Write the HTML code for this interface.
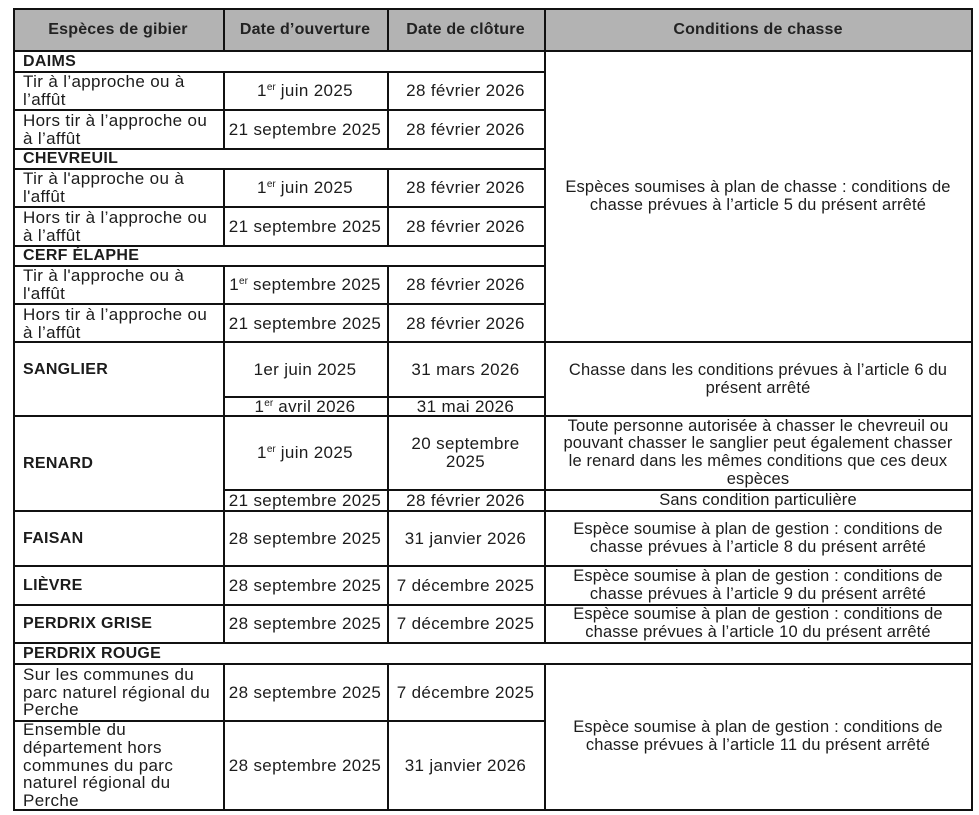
<!DOCTYPE html>
<html><head><meta charset="utf-8">
<style>
html,body{margin:0;padding:0;background:#fff;}
body{width:979px;height:815px;position:relative;overflow:hidden;font-family:"Liberation Sans",Arial,sans-serif;color:#1c1c1c;}
.h{position:absolute;height:1.5px;background:#111;}
.v{position:absolute;width:1.5px;background:#111;}
.c{position:absolute;display:flex;align-items:center;justify-content:center;text-align:center;white-space:nowrap;font-size:17px;line-height:17.7px;letter-spacing:0.35px;padding-top:2px;box-sizing:border-box;}
.l{justify-content:flex-start;text-align:left;padding-left:10px;}
.b{font-weight:bold;font-size:16px;letter-spacing:0.3px;}
.hd{font-weight:bold;font-size:16px;color:#222;letter-spacing:0.2px;}
.cd{font-size:16.5px;letter-spacing:0.15px;}
sup{font-size:10px;line-height:0;vertical-align:6px;letter-spacing:0;}
</style></head><body>
<div style="position:absolute;left:13px;top:8px;width:959px;height:42px;background:#b3b3b3;"></div>

<!-- horizontal lines -->
<div class="h" style="top:8px;left:13px;width:960px"></div>
<div class="h" style="top:50px;left:13px;width:960px"></div>
<div class="h" style="top:71px;left:13px;width:532px"></div>
<div class="h" style="top:109px;left:13px;width:532px"></div>
<div class="h" style="top:148px;left:13px;width:532px"></div>
<div class="h" style="top:168px;left:13px;width:532px"></div>
<div class="h" style="top:206px;left:13px;width:532px"></div>
<div class="h" style="top:245px;left:13px;width:532px"></div>
<div class="h" style="top:265px;left:13px;width:532px"></div>
<div class="h" style="top:303px;left:13px;width:532px"></div>
<div class="h" style="top:341px;left:13px;width:960px"></div>
<div class="h" style="top:396px;left:223px;width:322px"></div>
<div class="h" style="top:415px;left:13px;width:960px"></div>
<div class="h" style="top:489px;left:223px;width:750px"></div>
<div class="h" style="top:510px;left:13px;width:960px"></div>
<div class="h" style="top:565px;left:13px;width:960px"></div>
<div class="h" style="top:604px;left:13px;width:960px"></div>
<div class="h" style="top:642px;left:13px;width:960px"></div>
<div class="h" style="top:663px;left:13px;width:960px"></div>
<div class="h" style="top:720px;left:13px;width:532px"></div>
<div class="h" style="top:809px;left:13px;width:960px"></div>

<!-- vertical lines -->
<div class="v" style="left:13px;top:8px;height:802px"></div>
<div class="v" style="left:971px;top:8px;height:802px"></div>
<div class="v" style="left:544px;top:8px;height:635px"></div>
<div class="v" style="left:544px;top:663px;height:147px"></div>

<div class="v" style="left:223px;top:8px;height:42px"></div>
<div class="v" style="left:223px;top:71px;height:77px"></div>
<div class="v" style="left:223px;top:168px;height:77px"></div>
<div class="v" style="left:223px;top:265px;height:377px"></div>
<div class="v" style="left:223px;top:663px;height:147px"></div>

<div class="v" style="left:387px;top:8px;height:42px"></div>
<div class="v" style="left:387px;top:71px;height:77px"></div>
<div class="v" style="left:387px;top:168px;height:77px"></div>
<div class="v" style="left:387px;top:265px;height:377px"></div>
<div class="v" style="left:387px;top:663px;height:147px"></div>

<!-- header -->
<div class="c hd" style="left:13px;top:8px;width:210px;height:42px">Espèces de gibier</div>
<div class="c hd" style="left:223px;top:8px;width:164px;height:42px">Date d’ouverture</div>
<div class="c hd" style="left:387px;top:8px;width:157px;height:42px">Date de clôture</div>
<div class="c hd" style="left:544px;top:8px;width:428px;height:42px">Conditions de chasse</div>

<!-- DAIMS -->
<div class="c l b" style="left:13px;top:50px;width:531px;height:21px">DAIMS</div>
<div class="c l" style="left:13px;top:71px;width:210px;height:38px">Tir à l’approche ou à<br>l’affût</div>
<div class="c" style="left:223px;top:71px;width:164px;height:38px"><span>1<sup>er</sup> juin 2025</span></div>
<div class="c" style="left:387px;top:71px;width:157px;height:38px">28 février 2026</div>
<div class="c l" style="left:13px;top:109px;width:210px;height:39px">Hors tir à l’approche ou<br>à l’affût</div>
<div class="c" style="left:223px;top:109px;width:164px;height:39px">21 septembre 2025</div>
<div class="c" style="left:387px;top:109px;width:157px;height:39px">28 février 2026</div>

<!-- CHEVREUIL -->
<div class="c l b" style="left:13px;top:148px;width:531px;height:20px">CHEVREUIL</div>
<div class="c l" style="left:13px;top:168px;width:210px;height:38px">Tir à l'approche ou à<br>l'affût</div>
<div class="c" style="left:223px;top:168px;width:164px;height:38px"><span>1<sup>er</sup> juin 2025</span></div>
<div class="c" style="left:387px;top:168px;width:157px;height:38px">28 février 2026</div>
<div class="c l" style="left:13px;top:206px;width:210px;height:39px">Hors tir à l’approche ou<br>à l’affût</div>
<div class="c" style="left:223px;top:206px;width:164px;height:39px">21 septembre 2025</div>
<div class="c" style="left:387px;top:206px;width:157px;height:39px">28 février 2026</div>

<!-- CERF -->
<div class="c l b" style="left:13px;top:245px;width:531px;height:20px">CERF ÉLAPHE</div>
<div class="c l" style="left:13px;top:265px;width:210px;height:38px">Tir à l'approche ou à<br>l'affût</div>
<div class="c" style="left:223px;top:265px;width:164px;height:38px"><span>1<sup>er</sup> septembre 2025</span></div>
<div class="c" style="left:387px;top:265px;width:157px;height:38px">28 février 2026</div>
<div class="c l" style="left:13px;top:303px;width:210px;height:39px">Hors tir à l’approche ou<br>à l’affût</div>
<div class="c" style="left:223px;top:303px;width:164px;height:39px">21 septembre 2025</div>
<div class="c" style="left:387px;top:303px;width:157px;height:39px">28 février 2026</div>

<div class="c cd" style="left:544px;top:50px;width:428px;height:292px">Espèces soumises à plan de chasse : conditions de<br>chasse prévues à l’article 5 du présent arrêté</div>

<!-- SANGLIER -->
<div class="c l b" style="left:13px;top:342px;width:210px;height:54px">SANGLIER</div>
<div class="c" style="left:223px;top:342px;width:164px;height:54px">1er juin 2025</div>
<div class="c" style="left:387px;top:342px;width:157px;height:54px">31 mars 2026</div>
<div class="c" style="left:223px;top:396px;width:164px;height:19px"><span>1<sup>er</sup> avril 2026</span></div>
<div class="c" style="left:387px;top:396px;width:157px;height:19px">31 mai 2026</div>
<div class="c cd" style="left:544px;top:342px;width:428px;height:73px">Chasse dans les conditions prévues à l’article 6 du<br>présent arrêté</div>

<!-- RENARD -->
<div class="c l b" style="left:13px;top:415px;width:210px;height:95px">RENARD</div>
<div class="c" style="left:223px;top:415px;width:164px;height:74px"><span>1<sup>er</sup> juin 2025</span></div>
<div class="c" style="left:387px;top:415px;width:157px;height:74px">20 septembre<br>2025</div>
<div class="c cd" style="left:544px;top:415px;width:428px;height:74px">Toute personne autorisée à chasser le chevreuil ou<br>pouvant chasser le sanglier peut également chasser<br>le renard dans les mêmes conditions que ces deux<br>espèces</div>
<div class="c" style="left:223px;top:489px;width:164px;height:21px">21 septembre 2025</div>
<div class="c" style="left:387px;top:489px;width:157px;height:21px">28 février 2026</div>
<div class="c cd" style="left:544px;top:489px;width:428px;height:21px">Sans condition particulière</div>

<!-- FAISAN -->
<div class="c l b" style="left:13px;top:510px;width:210px;height:55px">FAISAN</div>
<div class="c" style="left:223px;top:510px;width:164px;height:55px">28 septembre 2025</div>
<div class="c" style="left:387px;top:510px;width:157px;height:55px">31 janvier 2026</div>
<div class="c cd" style="left:544px;top:510px;width:428px;height:55px">Espèce soumise à plan de gestion : conditions de<br>chasse prévues à l’article 8 du présent arrêté</div>

<!-- LIEVRE -->
<div class="c l b" style="left:13px;top:565px;width:210px;height:39px">LIÈVRE</div>
<div class="c" style="left:223px;top:565px;width:164px;height:39px">28 septembre 2025</div>
<div class="c" style="left:387px;top:565px;width:157px;height:39px">7 décembre 2025</div>
<div class="c cd" style="left:544px;top:565px;width:428px;height:39px">Espèce soumise à plan de gestion : conditions de<br>chasse prévues à l’article 9 du présent arrêté</div>

<!-- PERDRIX GRISE -->
<div class="c l b" style="left:13px;top:604px;width:210px;height:38px">PERDRIX GRISE</div>
<div class="c" style="left:223px;top:604px;width:164px;height:38px">28 septembre 2025</div>
<div class="c" style="left:387px;top:604px;width:157px;height:38px">7 décembre 2025</div>
<div class="c cd" style="left:544px;top:604px;width:428px;height:38px">Espèce soumise à plan de gestion : conditions de<br>chasse prévues à l’article 10 du présent arrêté</div>

<!-- PERDRIX ROUGE -->
<div class="c l b" style="left:13px;top:642px;width:959px;height:21px">PERDRIX ROUGE</div>
<div class="c l" style="left:13px;top:663px;width:210px;height:57px">Sur les communes du<br>parc naturel régional du<br>Perche</div>
<div class="c" style="left:223px;top:663px;width:164px;height:57px">28 septembre 2025</div>
<div class="c" style="left:387px;top:663px;width:157px;height:57px">7 décembre 2025</div>
<div class="c l" style="left:13px;top:720px;width:210px;height:89px">Ensemble du<br>département hors<br>communes du parc<br>naturel régional du<br>Perche</div>
<div class="c" style="left:223px;top:720px;width:164px;height:89px">28 septembre 2025</div>
<div class="c" style="left:387px;top:720px;width:157px;height:89px">31 janvier 2026</div>
<div class="c cd" style="left:544px;top:663px;width:428px;height:146px">Espèce soumise à plan de gestion : conditions de<br>chasse prévues à l’article 11 du présent arrêté</div>
</body></html>
